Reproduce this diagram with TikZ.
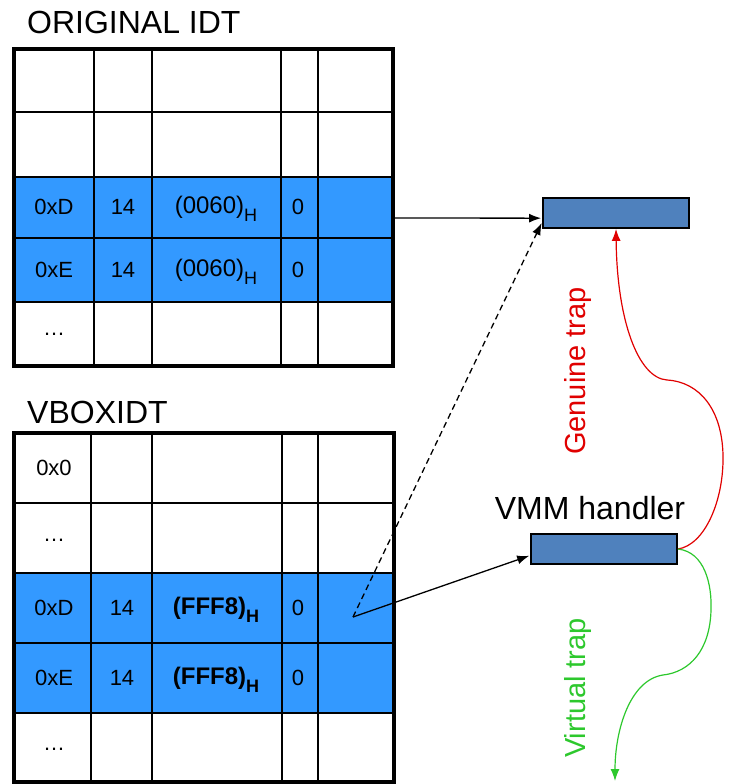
\documentclass[tikz,border=0pt]{standalone}
\usepackage{fontspec}
\setmainfont{Liberation Sans}
\usepackage{tikz}
\usetikzlibrary{arrows,positioning,calc}
\usetikzlibrary{arrows.meta}
\definecolor{rowblue}{HTML}{3399FF}
\definecolor{boxblue}{HTML}{4F81BD}
\definecolor{trapred}{HTML}{E00000}
\definecolor{trapgreen}{HTML}{2DC82D}
\newcommand{\cellfont}{\fontsize{22}{24}\selectfont}
\newcommand{\hexH}[1]{{\fontsize{24}{26}\selectfont(#1)\raisebox{-8pt}[0pt][0pt]{\fontsize{18}{18}\selectfont H}}}

\begin{document}
\begin{tikzpicture}
[x=1pt,y=-1pt,>={Latex[length=12pt,width=9pt]},
grid/.style={line width=1.6pt},
frame/.style={line width=3.5pt},
cell/.style={font=\cellfont,inner sep=0pt},
title/.style={font=\fontsize{32}{36}\selectfont,anchor=west,inner sep=0pt},
handler/.style={draw,fill=boxblue,line width=1.8pt,minimum width=146pt,minimum height=30pt,inner sep=0pt},
link/.style={->,line width=1.3pt,shorten >=1pt},
trap/.style={font=\fontsize{29}{32}\selectfont,rotate=90,inner sep=0pt}]
\useasboundingbox (0,0) rectangle (728,784);

% original IDT
\node[title] (otitle) at (27,22) {ORIGINAL IDT};
\fill[rowblue] (14,177) rectangle (393,302);
\foreach \x in {94,152,281,318} \draw[grid] (\x,49) -- (\x,366);
\foreach \y in {112,177,238,302} \draw[grid] (14,\y) -- (393,\y);
\draw[frame] (14,49) rectangle (393,366);
\node[cell] (od1) at (54,207) {0xD};
\node[cell] (od2) at (123,207) {14};
\node[cell] (od3) at (216,207) {\hexH{0060}};
\node[cell] (od4) at (298,207) {0};
\node[cell] (oe1) at (54,270) {0xE};
\node[cell] (oe2) at (123,270) {14};
\node[cell] (oe3) at (216,270) {\hexH{0060}};
\node[cell] (oe4) at (298,270) {0};
\node[cell] (odots) at (54,334) {\dots};

% VBOX IDT
\node[title] (vtitle) at (27,412) {VBOXIDT};
\fill[rowblue] (14,573) rectangle (394,713);
\foreach \x in {91,152,282,318} \draw[grid] (\x,433) -- (\x,782);
\foreach \y in {503,573,643,713} \draw[grid] (14,\y) -- (394,\y);
\draw[frame] (14,433) rectangle (394,782);
\node[cell] (v0) at (54,468) {0x0};
\node[cell] (vdots1) at (54,540) {\dots};
\node[cell] (vd1) at (54,608) {0xD};
\node[cell] (vd2) at (122,608) {14};
\node[cell] (vd3) at (216,608) {\bfseries\hexH{FFF8}};
\node[cell] (vd4) at (298,608) {0};
\node[cell] (ve1) at (54,678) {0xE};
\node[cell] (ve2) at (122,678) {14};
\node[cell] (ve3) at (216,678) {\bfseries\hexH{FFF8}};
\node[cell] (ve4) at (298,678) {0};
\node[cell] (vdots2) at (54,749) {\dots};

% handlers
\node[handler] (isr) at (616,213) {};
\node[handler] (vmm) at (604,549) {};
\node[title,anchor=center] (vmmlabel) at (590,508) {VMM handler};
\node[trap,text=trapred] (gtrap) at (578,371) {Genuine trap};
\node[trap,text=trapgreen] (vtrap) at (578,688) {Virtual trap};

\coordinate (osrc) at (393,218);
\coordinate (vsrc) at (353,617);
\coordinate (vend) at (615,781);

\draw (osrc) edge[link] (isr.184);
\draw (vsrc) edge[link,dash pattern=on 6pt off 4pt] (isr.187);
\draw (vsrc) edge[link] (vmm.185);

\draw[->,trapred,line width=1.2pt] (vmm.east) .. controls (705,545) and (724,500) .. (723,455)
  .. controls (722,410) and (700,382) .. (667,380)
  .. controls (638,378) and (617,320) .. (isr.south);
\draw[->,trapgreen,line width=1.2pt] (vmm.east) .. controls (705,552) and (712,585) .. (711,610)
  .. controls (710,650) and (690,672) .. (663,675)
  .. controls (630,680) and (615,730) .. (vend);

\end{tikzpicture}
\end{document}
